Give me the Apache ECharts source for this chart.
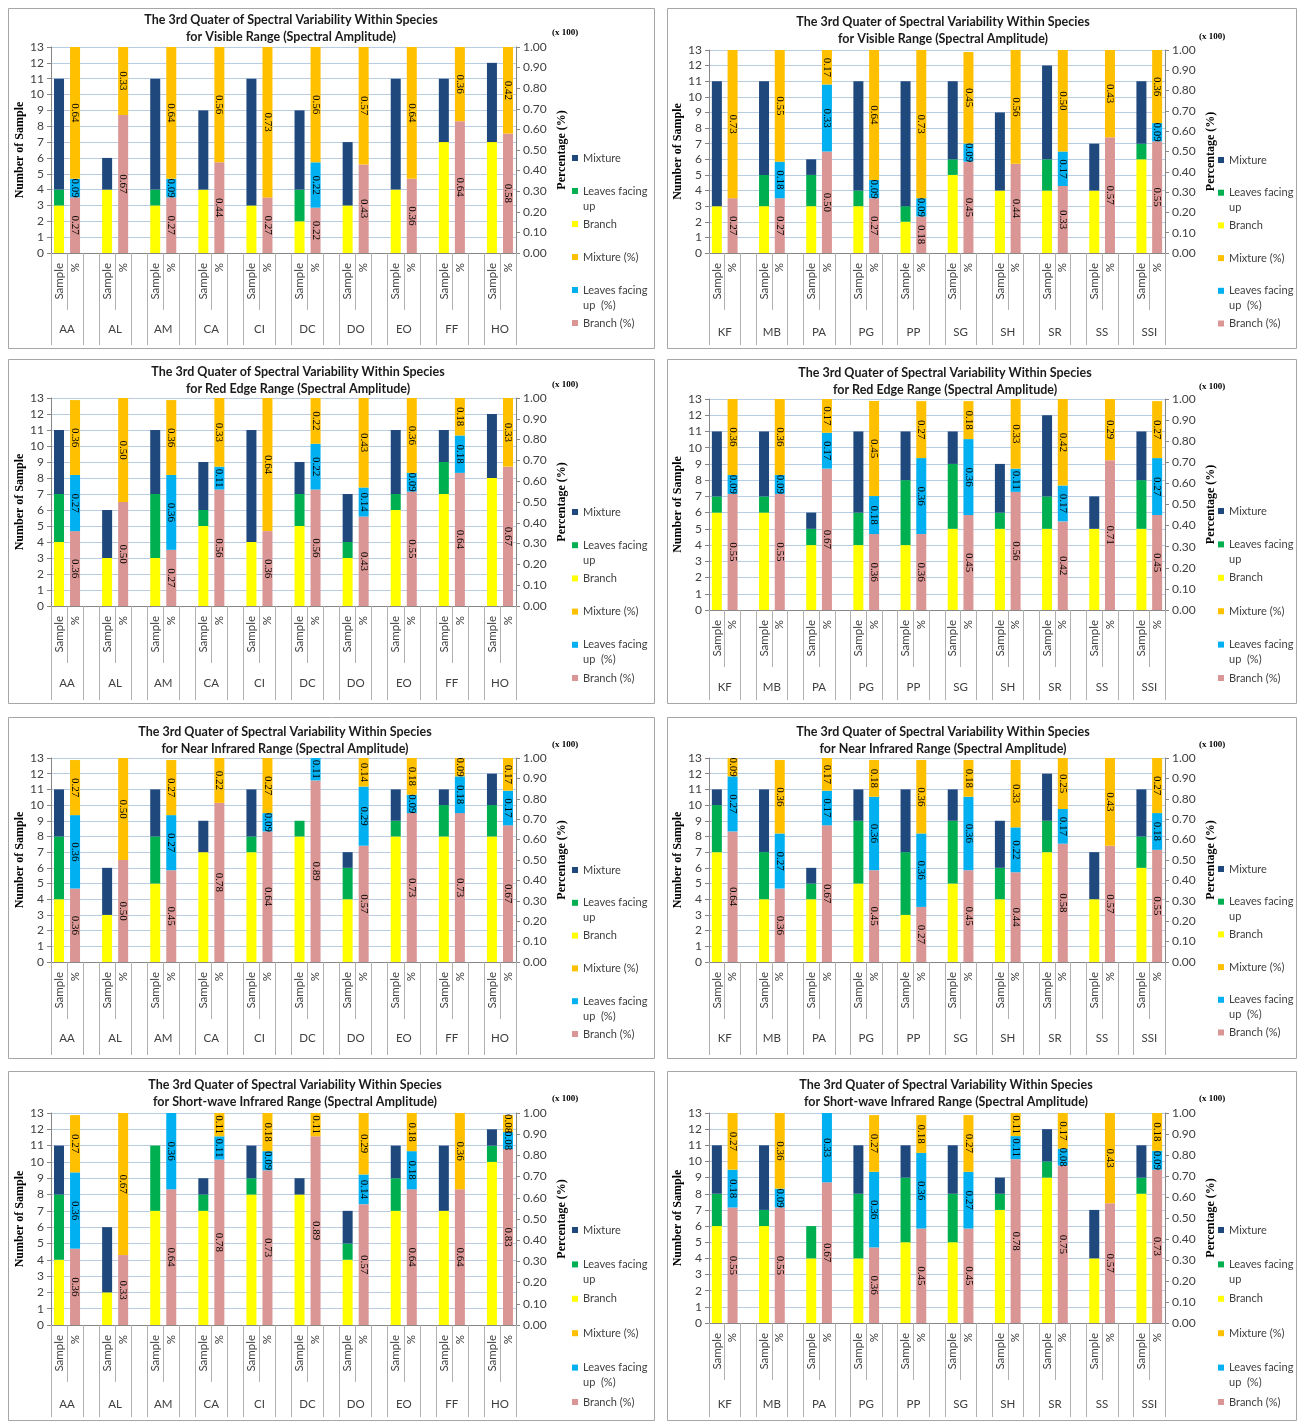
<!DOCTYPE html>
<html><head><meta charset="utf-8">
<script src="https://cdn.jsdelivr.net/npm/echarts@6/dist/echarts.min.js"></script>
<style>html,body{margin:0;padding:0;background:#fff}#c{width:1297px;height:1424px}</style>
</head><body><div id="c"></div>
<script>
// ---------------- DATA ----------------
const speciesA = ['AA','AL','AM','CA','CI','DC','DO','EO','FF','HO'];
const speciesB = ['KF','MB','PA','PG','PP','SG','SH','SR','SS','SSI'];
const titleLine1 = 'The 3rd Quater of Spectral Variability Within Species';
const rangeTitles = ['for Visible Range (Spectral Amplitude)','for Red Edge Range (Spectral Amplitude)','for Near Infrared Range (Spectral Amplitude)','for Short-wave Infrared Range (Spectral Amplitude)'];
const yTicksCount = [0,1,2,3,4,5,6,7,8,9,10,11,12,13];
const yTicksPct = ['0.00','0.10','0.20','0.30','0.40','0.50','0.60','0.70','0.80','0.90','1.00'];

// Visible, species A
const visA_branch  = [3,4,3,4,3,2,3,4,7,7];
const visA_leaves  = [1,0,1,0,0,2,0,0,0,0];
const visA_mixture = [7,2,7,5,8,5,4,7,4,5];
const visA_branchPct  = [0.27,0.67,0.27,0.44,0.27,0.22,0.43,0.36,0.64,0.58];
const visA_leavesPct  = [0.09,0,0.09,0,0,0.22,0,0,0,0];
const visA_mixturePct = [0.64,0.33,0.64,0.56,0.73,0.56,0.57,0.64,0.36,0.42];
// Visible, species B
const visB_branch  = [3,3,3,3,2,5,4,4,4,6];
const visB_leaves  = [0,2,2,1,1,1,0,2,0,1];
const visB_mixture = [8,6,1,7,8,5,5,6,3,4];
const visB_branchPct  = [0.27,0.27,0.50,0.27,0.18,0.45,0.44,0.33,0.57,0.55];
const visB_leavesPct  = [0,0.18,0.33,0.09,0.09,0.09,0,0.17,0,0.09];
const visB_mixturePct = [0.73,0.55,0.17,0.64,0.73,0.45,0.56,0.50,0.43,0.36];
// Red edge, species A
const reA_branch  = [4,3,3,5,4,5,3,6,7,8];
const reA_leaves  = [3,0,4,1,0,2,1,1,2,0];
const reA_mixture = [4,3,4,3,7,2,3,4,2,4];
const reA_branchPct  = [0.36,0.50,0.27,0.56,0.36,0.56,0.43,0.55,0.64,0.67];
const reA_leavesPct  = [0.27,0,0.36,0.11,0,0.22,0.14,0.09,0.18,0];
const reA_mixturePct = [0.36,0.50,0.36,0.33,0.64,0.22,0.43,0.36,0.18,0.33];
// Red edge, species B
const reB_branch  = [6,6,4,4,4,5,5,5,5,5];
const reB_leaves  = [1,1,1,2,4,4,1,2,0,3];
const reB_mixture = [4,4,1,5,3,2,3,5,2,3];
const reB_branchPct  = [0.55,0.55,0.67,0.36,0.36,0.45,0.56,0.42,0.71,0.45];
const reB_leavesPct  = [0.09,0.09,0.17,0.18,0.36,0.36,0.11,0.17,0,0.27];
const reB_mixturePct = [0.36,0.36,0.17,0.45,0.27,0.18,0.33,0.42,0.29,0.27];
// Near infrared, species A
const nirA_branch  = [4,3,5,7,7,8,4,8,8,8];
const nirA_leaves  = [4,0,3,0,1,1,2,1,2,2];
const nirA_mixture = [3,3,3,2,3,0,1,2,1,2];
const nirA_branchPct  = [0.36,0.50,0.45,0.78,0.64,0.89,0.57,0.73,0.73,0.67];
const nirA_leavesPct  = [0.36,0,0.27,0,0.09,0.11,0.29,0.09,0.18,0.17];
const nirA_mixturePct = [0.27,0.50,0.27,0.22,0.27,0,0.14,0.18,0.09,0.17];
// Near infrared, species B
const nirB_branch  = [7,4,4,5,3,5,4,7,4,6];
const nirB_leaves  = [3,3,1,4,4,4,2,2,0,2];
const nirB_mixture = [1,4,1,2,4,2,3,3,3,3];
const nirB_branchPct  = [0.64,0.36,0.67,0.45,0.27,0.45,0.44,0.58,0.57,0.55];
const nirB_leavesPct  = [0.27,0.27,0.17,0.36,0.36,0.36,0.22,0.17,0,0.18];
const nirB_mixturePct = [0.09,0.36,0.17,0.18,0.36,0.18,0.33,0.25,0.43,0.27];
// Short-wave infrared, species A
const swA_branch  = [4,2,7,7,8,8,4,7,7,10];
const swA_leaves  = [4,0,4,1,1,0,1,2,0,1];
const swA_mixture = [3,4,0,1,2,1,2,2,4,1];
const swA_branchPct  = [0.36,0.33,0.64,0.78,0.73,0.89,0.57,0.64,0.64,0.83];
const swA_leavesPct  = [0.36,0,0.36,0.11,0.09,0,0.14,0.18,0,0.08];
const swA_mixturePct = [0.27,0.67,0,0.11,0.18,0.11,0.29,0.18,0.36,0.08];
// Short-wave infrared, species B
const swB_branch  = [6,6,4,4,5,5,7,9,4,8];
const swB_leaves  = [2,1,2,4,4,3,1,1,0,1];
const swB_mixture = [3,4,0,3,2,3,1,2,3,2];
const swB_branchPct  = [0.55,0.55,0.67,0.36,0.45,0.45,0.78,0.75,0.57,0.73];
const swB_leavesPct  = [0.18,0.09,0.33,0.36,0.36,0.27,0.11,0.08,0,0.09];
const swB_mixturePct = [0.27,0.36,0,0.27,0.18,0.27,0.11,0.17,0.43,0.18];

const panels = [
  {sp: speciesA, t: 0, b: visA_branch, l: visA_leaves, m: visA_mixture, bp: visA_branchPct, lp: visA_leavesPct, mp: visA_mixturePct},
  {sp: speciesB, t: 0, b: visB_branch, l: visB_leaves, m: visB_mixture, bp: visB_branchPct, lp: visB_leavesPct, mp: visB_mixturePct},
  {sp: speciesA, t: 1, b: reA_branch, l: reA_leaves, m: reA_mixture, bp: reA_branchPct, lp: reA_leavesPct, mp: reA_mixturePct},
  {sp: speciesB, t: 1, b: reB_branch, l: reB_leaves, m: reB_mixture, bp: reB_branchPct, lp: reB_leavesPct, mp: reB_mixturePct},
  {sp: speciesA, t: 2, b: nirA_branch, l: nirA_leaves, m: nirA_mixture, bp: nirA_branchPct, lp: nirA_leavesPct, mp: nirA_mixturePct},
  {sp: speciesB, t: 2, b: nirB_branch, l: nirB_leaves, m: nirB_mixture, bp: nirB_branchPct, lp: nirB_leavesPct, mp: nirB_mixturePct},
  {sp: speciesA, t: 3, b: swA_branch, l: swA_leaves, m: swA_mixture, bp: swA_branchPct, lp: swA_leavesPct, mp: swA_mixturePct},
  {sp: speciesB, t: 3, b: swB_branch, l: swB_leaves, m: swB_mixture, bp: swB_branchPct, lp: swB_leavesPct, mp: swB_mixturePct}
];

// ---------------- LAYOUT ----------------
const layout = [
  {L:8,   R:654,  T:8,    B:348,  pl:51,  pr:516,  pt:47,   pb:253,  ty:11,   tx:291, legX:572,  legY:158,  pitch:33,   spY:330,  xlY:33,   xlX:565},
  {L:667, R:1296, T:8,    B:348,  pl:709, pr:1165, pt:50,   pb:253,  ty:13,   tx:943, legX:1218, legY:160,  pitch:32.7, spY:333,  xlY:37,   xlX:1212},
  {L:8,   R:654,  T:359,  B:703,  pl:51,  pr:516,  pt:398,  pb:606,  ty:363,  tx:298, legX:572,  legY:512,  pitch:33.2, spY:684,  xlY:385,  xlX:565},
  {L:667, R:1296, T:359,  B:703,  pl:709, pr:1165, pt:399,  pb:610,  ty:364,  tx:945, legX:1218, legY:511,  pitch:33.4, spY:688,  xlY:387,  xlX:1212},
  {L:8,   R:654,  T:717,  B:1058, pl:51,  pr:516,  pt:758,  pb:962,  ty:723,  tx:285, legX:572,  legY:870,  pitch:32.8, spY:1039, xlY:745,  xlX:565},
  {L:667, R:1296, T:717,  B:1058, pl:709, pr:1165, pt:758,  pb:962,  ty:723,  tx:943, legX:1218, legY:869,  pitch:32.7, spY:1039, xlY:745,  xlX:1212},
  {L:8,   R:654,  T:1071, B:1420, pl:51,  pr:516,  pt:1113, pb:1325, ty:1076, tx:295, legX:572,  legY:1230, pitch:34.4, spY:1405, xlY:1099, xlX:565},
  {L:667, R:1296, T:1071, B:1420, pl:709, pr:1165, pt:1113, pb:1323, ty:1076, tx:946, legX:1218, legY:1230, pitch:34.4, spY:1405, xlY:1099, xlX:1212}
];

const COL = {b:'#FFFF00', l:'#00B050', m:'#1F497D', bp:'#DA9694', lp:'#00B0F0', mp:'#FFC000'};
const NAMES = {b:'Branch', l:'Leaves facing up', m:'Mixture', bp:'Branch (%)', lp:'Leaves facing up (%)', mp:'Mixture (%)'};
const legendText = {
  'Mixture':'\nMixture\n', 'Leaves facing up':'\nLeaves facing\nup', 'Branch':'\nBranch\n',
  'Mixture (%)':'\nMixture (%)\n', 'Leaves facing up (%)':'\nLeaves facing\nup  (%)', 'Branch (%)':'\nBranch (%)\n'
};
const SANS = 'Lato, Carlito, "Open Sans", sans-serif';
const SERIF = '"Liberation Serif", "DejaVu Serif", serif';
const AX = '#868686';

function cats(sp){ const c=[]; sp.forEach((s,g)=>{ c.push('Sample'); c.push('%'); if(g<sp.length-1) c.push(''); }); return c; }
function place(arr, slot){ const d=[]; arr.forEach((v,g)=>{ d.push(slot===0?v:null); d.push(slot===1?v:null); if(g<arr.length-1) d.push(null); }); return d; }

const option = {animation:false, backgroundColor:'#fff', title:[], grid:[], xAxis:[], yAxis:[], legend:[], series:[], graphic:[]};

panels.forEach((p,i)=>{
  const Lo = layout[i];
  const n = p.sp.length*3-1;
  option.graphic.push({type:'rect', silent:true, z:-1, shape:{x:Lo.L+0.5, y:Lo.T+0.5, width:Lo.R-Lo.L, height:Lo.B-Lo.T}, style:{fill:'none', stroke:'#A6A6A6', lineWidth:1}});
  option.graphic.push({type:'text', silent:true, x:Lo.xlX, y:Lo.xlY, style:{text:'(x 100)', fill:'#000', font:'bold 9px '+SERIF, align:'center', verticalAlign:'middle'}});
  option.title.push({text: titleLine1+'\n'+rangeTitles[p.t], left:Lo.tx, top:Lo.ty, padding:0, textAlign:'center',
    textStyle:{fontFamily:SANS, fontWeight:'bold', fontSize:12.5, lineHeight:17, color:'#1a1a1a'}});
  option.grid.push({left:Lo.pl, top:Lo.pt, width:Lo.pr-Lo.pl, height:Lo.pb-Lo.pt, containLabel:false});
  const longTicks=[], spPos=[];
  p.sp.forEach((s,g)=>{ longTicks.push(3*g, 3*g+2); spPos.push(3*g+1); });
  const tail = Lo.B - Lo.pb - 3;
  option.xAxis.push({gridIndex:i, type:'category', data:cats(p.sp), position:'bottom',
    axisLine:{lineStyle:{color:AX}}, axisTick:{show:true, alignWithLabel:false, interval:0, length:57, lineStyle:{color:'#B0B0B0'}},
    axisLabel:{interval:0, rotate:90, margin:10, fontFamily:SANS, fontSize:11.5, color:'#404040'}, splitLine:{show:false}});
  option.xAxis.push({gridIndex:i, type:'value', min:0, max:n, position:'bottom',
    axisLine:{show:false}, splitLine:{show:false},
    axisTick:{show:true, customValues:longTicks, length:tail, lineStyle:{color:'#B0B0B0'}},
    axisLabel:{customValues:spPos, margin:Lo.spY-Lo.pb-7, fontFamily:SANS, fontSize:11.5, color:'#404040',
      formatter:(v)=>p.sp[Math.round((v-1)/3)]}});
  option.yAxis.push({gridIndex:i, type:'value', position:'left', min:yTicksCount[0], max:yTicksCount[yTicksCount.length-1], interval:1,
    axisLine:{show:true, lineStyle:{color:AX}}, axisTick:{show:true, length:4, lineStyle:{color:AX}},
    axisLabel:{fontFamily:SANS, fontSize:12, color:'#404040', margin:7},
    splitLine:{show:true, lineStyle:{color:'#B8CCE4'}},
    name:'Number of Sample', nameLocation:'middle', nameRotate:90, nameGap:25, nameMoveOverlap:false,
    nameTextStyle:{fontFamily:SERIF, fontWeight:'bold', fontSize:12, color:'#000'}});
  option.yAxis.push({gridIndex:i, type:'value', position:'right', min:0, max:1, interval:0.1,
    axisLine:{show:true, lineStyle:{color:AX}}, axisTick:{show:true, length:4, lineStyle:{color:AX}},
    axisLabel:{fontFamily:SANS, fontSize:12, color:'#404040', margin:7, formatter:(v)=>yTicksPct[Math.round(v*10)]},
    splitLine:{show:false},
    name:'Percentage (%)', nameLocation:'middle', nameRotate:90, nameGap:40, nameMoveOverlap:false,
    nameTextStyle:{fontFamily:SERIF, fontWeight:'bold', fontSize:12, color:'#000'}});
  option.legend.push({orient:'vertical', left:Lo.legX, top:Lo.legY-22.5, width:90, height:400, padding:0, itemWidth:6, itemHeight:6,
    itemGap:Lo.pitch-45, icon:'rect', selectedMode:false,
    data:[NAMES.m, NAMES.l, NAMES.b, NAMES.mp, NAMES.lp, NAMES.bp],
    formatter:(nm)=>legendText[nm], textStyle:{fontFamily:SANS, fontSize:11, color:'#404040', lineHeight:15}});
  const bw = Math.round((Lo.pr-Lo.pl)/n*0.65);
  ['b','l','m'].forEach(k=>{
    option.series.push({type:'bar', name:NAMES[k], xAxisIndex:2*i, yAxisIndex:2*i, stack:'cnt'+i, barWidth:bw, barGap:'-100%',
      itemStyle:{color:COL[k]}, data:place(p[k],0)});
  });
  ['bp','lp','mp'].forEach(k=>{
    option.series.push({type:'bar', name:NAMES[k], xAxisIndex:2*i, yAxisIndex:2*i+1, stack:'pct'+i, barWidth:bw, barGap:'-100%',
      itemStyle:{color:COL[k]}, data:place(p[k],1),
      label:{show:true, position:'inside', rotate:-90, fontFamily:SERIF, fontSize:11, color:'#000',
        formatter:(q)=> (q.value ? Number(q.value).toFixed(2) : '')}});
  });
});

const chart = echarts.init(document.getElementById('c'), null, {renderer:'canvas'});
chart.setOption(option);
</script>
</body></html>
